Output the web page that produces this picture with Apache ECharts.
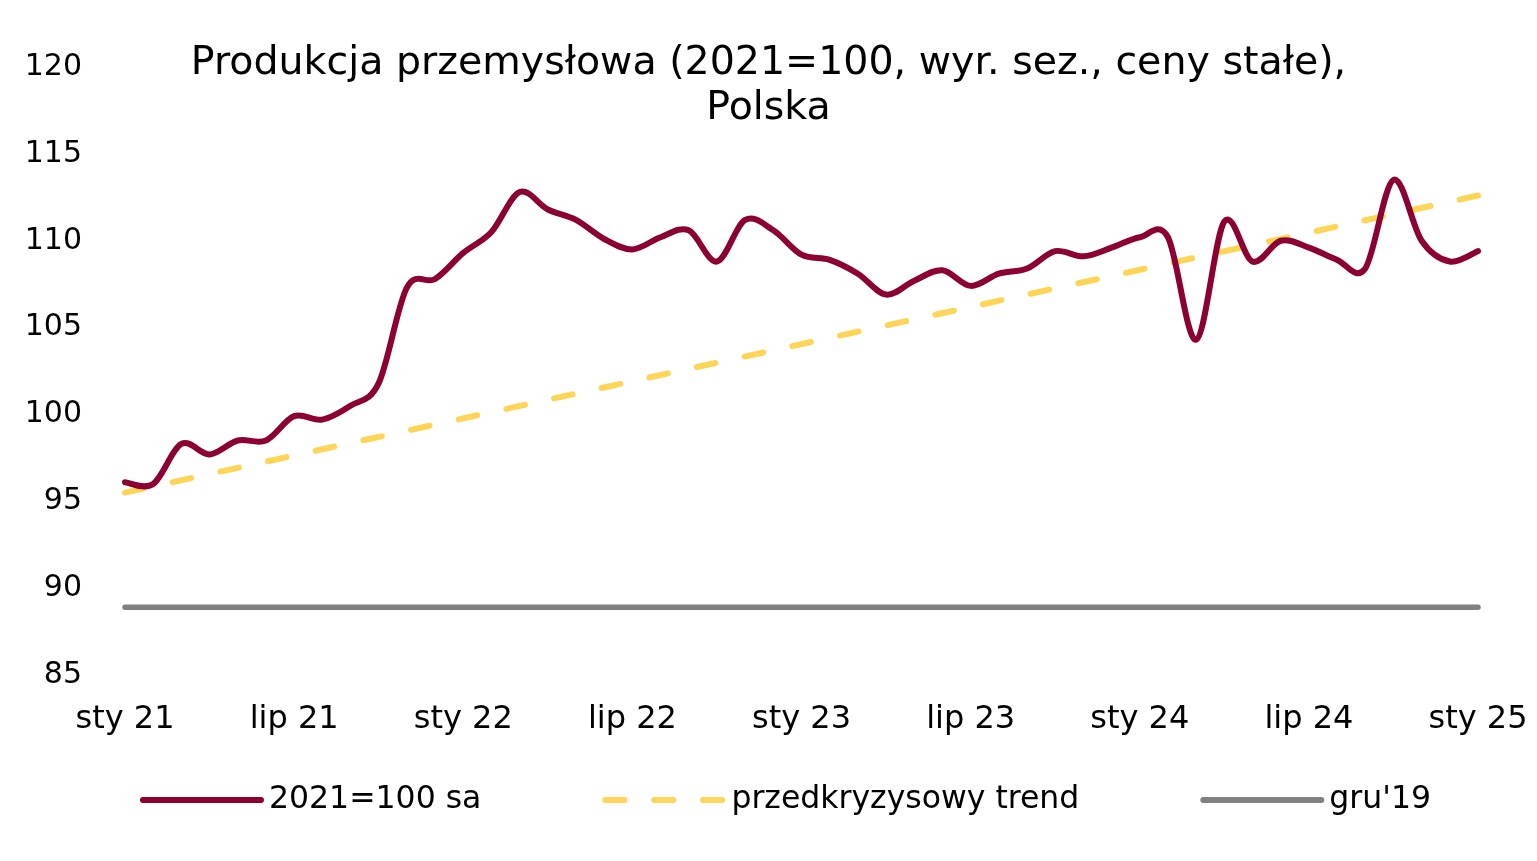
<!DOCTYPE html>
<html>
<head>
<meta charset="utf-8">
<script src="https://cdn.jsdelivr.net/npm/echarts@6/dist/echarts.min.js"></script>
<style>html,body{margin:0;padding:0;background:#fff;}#c{width:1537px;height:861px;}</style>
</head>
<body>
<div id="c"></div>
<script>
var categories = [
  'sty 21','lut 21','mar 21','kwi 21','maj 21','cze 21','lip 21','sie 21','wrz 21','paź 21','lis 21','gru 21',
  'sty 22','lut 22','mar 22','kwi 22','maj 22','cze 22','lip 22','sie 22','wrz 22','paź 22','lis 22','gru 22',
  'sty 23','lut 23','mar 23','kwi 23','maj 23','cze 23','lip 23','sie 23','wrz 23','paź 23','lis 23','gru 23',
  'sty 24','lut 24','mar 24','kwi 24','maj 24','cze 24','lip 24','sie 24','wrz 24','paź 24','lis 24','gru 24',
  'sty 25'
];
var production = [
  96.1, 96.0, 98.3, 97.7, 98.5, 98.5, 99.9, 99.7, 100.5, 101.8, 107.3, 107.8,
  109.3, 110.5, 112.8, 111.8, 111.2, 110.1, 109.5, 110.2, 110.6, 108.8, 111.2, 110.6,
  109.2, 108.9, 108.1, 106.9, 107.7, 108.3, 107.4, 108.1, 108.4, 109.4, 109.1, 109.6,
  110.2, 110.2, 104.3, 111.1, 108.8, 110.0, 109.6, 108.9, 108.4, 113.5, 110.0, 108.8,
  109.4
];
var trend = [
  95.5, null, null, null, null, null, null, null, null, null, null, null,
  null, null, null, null, null, null, null, null, null, null, null, null,
  null, null, null, null, null, null, null, null, null, null, null, null,
  null, null, null, null, null, null, null, null, null, null, null, null,
  112.6
];
var gru19 = [
  88.9, 88.9, 88.9, 88.9, 88.9, 88.9, 88.9, 88.9, 88.9, 88.9, 88.9, 88.9,
  88.9, 88.9, 88.9, 88.9, 88.9, 88.9, 88.9, 88.9, 88.9, 88.9, 88.9, 88.9,
  88.9, 88.9, 88.9, 88.9, 88.9, 88.9, 88.9, 88.9, 88.9, 88.9, 88.9, 88.9,
  88.9, 88.9, 88.9, 88.9, 88.9, 88.9, 88.9, 88.9, 88.9, 88.9, 88.9, 88.9,
  88.9
];
var seriesNames = ['2021=100 sa', 'przedkryzysowy trend', "gru'19"];
var titleText = 'Produkcja przemysłowa (2021=100, wyr. sez., ceny stałe),\nPolska';

var FONT = 'DejaVu Sans';
var RED = '#8C0033';

// Smooth (Excel-like) curve through the data points, positioned by the chart's own axes.
function renderSmooth(params, api) {
  if (params.dataIndex !== 0) return;
  var pts = [];
  for (var i = 0; i < production.length; i++) pts.push(api.coord([i, production[i]]));
  var n = pts.length;
  var d = 'M' + pts[0][0] + ' ' + pts[0][1];
  for (var k = 0; k < n - 1; k++) {
    var p0 = pts[k > 0 ? k - 1 : k], p1 = pts[k], p2 = pts[k + 1], p3 = pts[k + 2 < n ? k + 2 : k + 1];
    var c1x = p1[0] + (p2[0] - p0[0]) / 6, c1y = p1[1] + (p2[1] - p0[1]) / 6;
    var c2x = p2[0] - (p3[0] - p1[0]) / 6, c2y = p2[1] - (p3[1] - p1[1]) / 6;
    d += ' C' + c1x + ' ' + c1y + ' ' + c2x + ' ' + c2y + ' ' + p2[0] + ' ' + p2[1];
  }
  return {
    type: 'path',
    shape: {pathData: d},
    style: {fill: 'none', stroke: RED, lineWidth: 6, lineCap: 'round', lineJoin: 'round'}
  };
}

var chart = echarts.init(document.getElementById('c'), null, {renderer: 'canvas'});
chart.setOption({
  animation: false,
  backgroundColor: '#ffffff',
  title: {
    text: titleText,
    left: 'center',
    top: 36,
    textStyle: {fontFamily: FONT, fontSize: 39.5, fontWeight: 'normal', color: '#000', lineHeight: 45, align: 'center'}
  },
  legend: {
    data: seriesNames,
    left: 140,
    top: 784,
    padding: 0,
    itemGap: 121,
    itemWidth: 118,
    itemHeight: 14,
    itemStyle: {opacity: 0},
    lineStyle: {width: 6, cap: 'round', opacity: 1},
    textStyle: {fontFamily: FONT, fontSize: 31.5, color: '#000', padding: [0, 0, 0, 3]}
  },
  grid: {left: 125, right: 59, top: 67, bottom: 186},
  xAxis: {
    type: 'category',
    data: categories,
    boundaryGap: false,
    axisLine: {show: false},
    axisTick: {show: false},
    axisLabel: {interval: 5, margin: 29, fontFamily: FONT, fontSize: 32, color: '#000'},
    splitLine: {show: false}
  },
  yAxis: {
    type: 'value',
    min: 85, max: 120, interval: 5,
    axisLine: {show: false},
    axisTick: {show: false},
    axisLabel: {margin: 43, fontFamily: FONT, fontSize: 30, color: '#000'},
    splitLine: {show: false}
  },
  series: [
    {
      name: seriesNames[0], type: 'line', data: production,
      symbol: 'none', z: 1, silent: true,
      lineStyle: {color: RED, width: 6, cap: 'round', opacity: 0},
      itemStyle: {color: RED}
    },
    {
      name: 'curve', type: 'custom', z: 4, clip: false, silent: true,
      data: production.map(function (v, i) { return [i, v]; }),
      encode: {x: 0, y: 1},
      renderItem: renderSmooth
    },
    {
      name: seriesNames[1], type: 'line', data: trend, connectNulls: true,
      symbol: 'none', z: 3,
      lineStyle: {color: '#FFD557', width: 6, type: [19, 29.8], cap: 'round'},
      itemStyle: {color: '#FFD557'}
    },
    {
      name: seriesNames[2], type: 'line', data: gru19,
      symbol: 'none', z: 2,
      lineStyle: {color: '#808080', width: 5.5, cap: 'round'},
      itemStyle: {color: '#808080'}
    }
  ]
});
</script>
</body>
</html>
